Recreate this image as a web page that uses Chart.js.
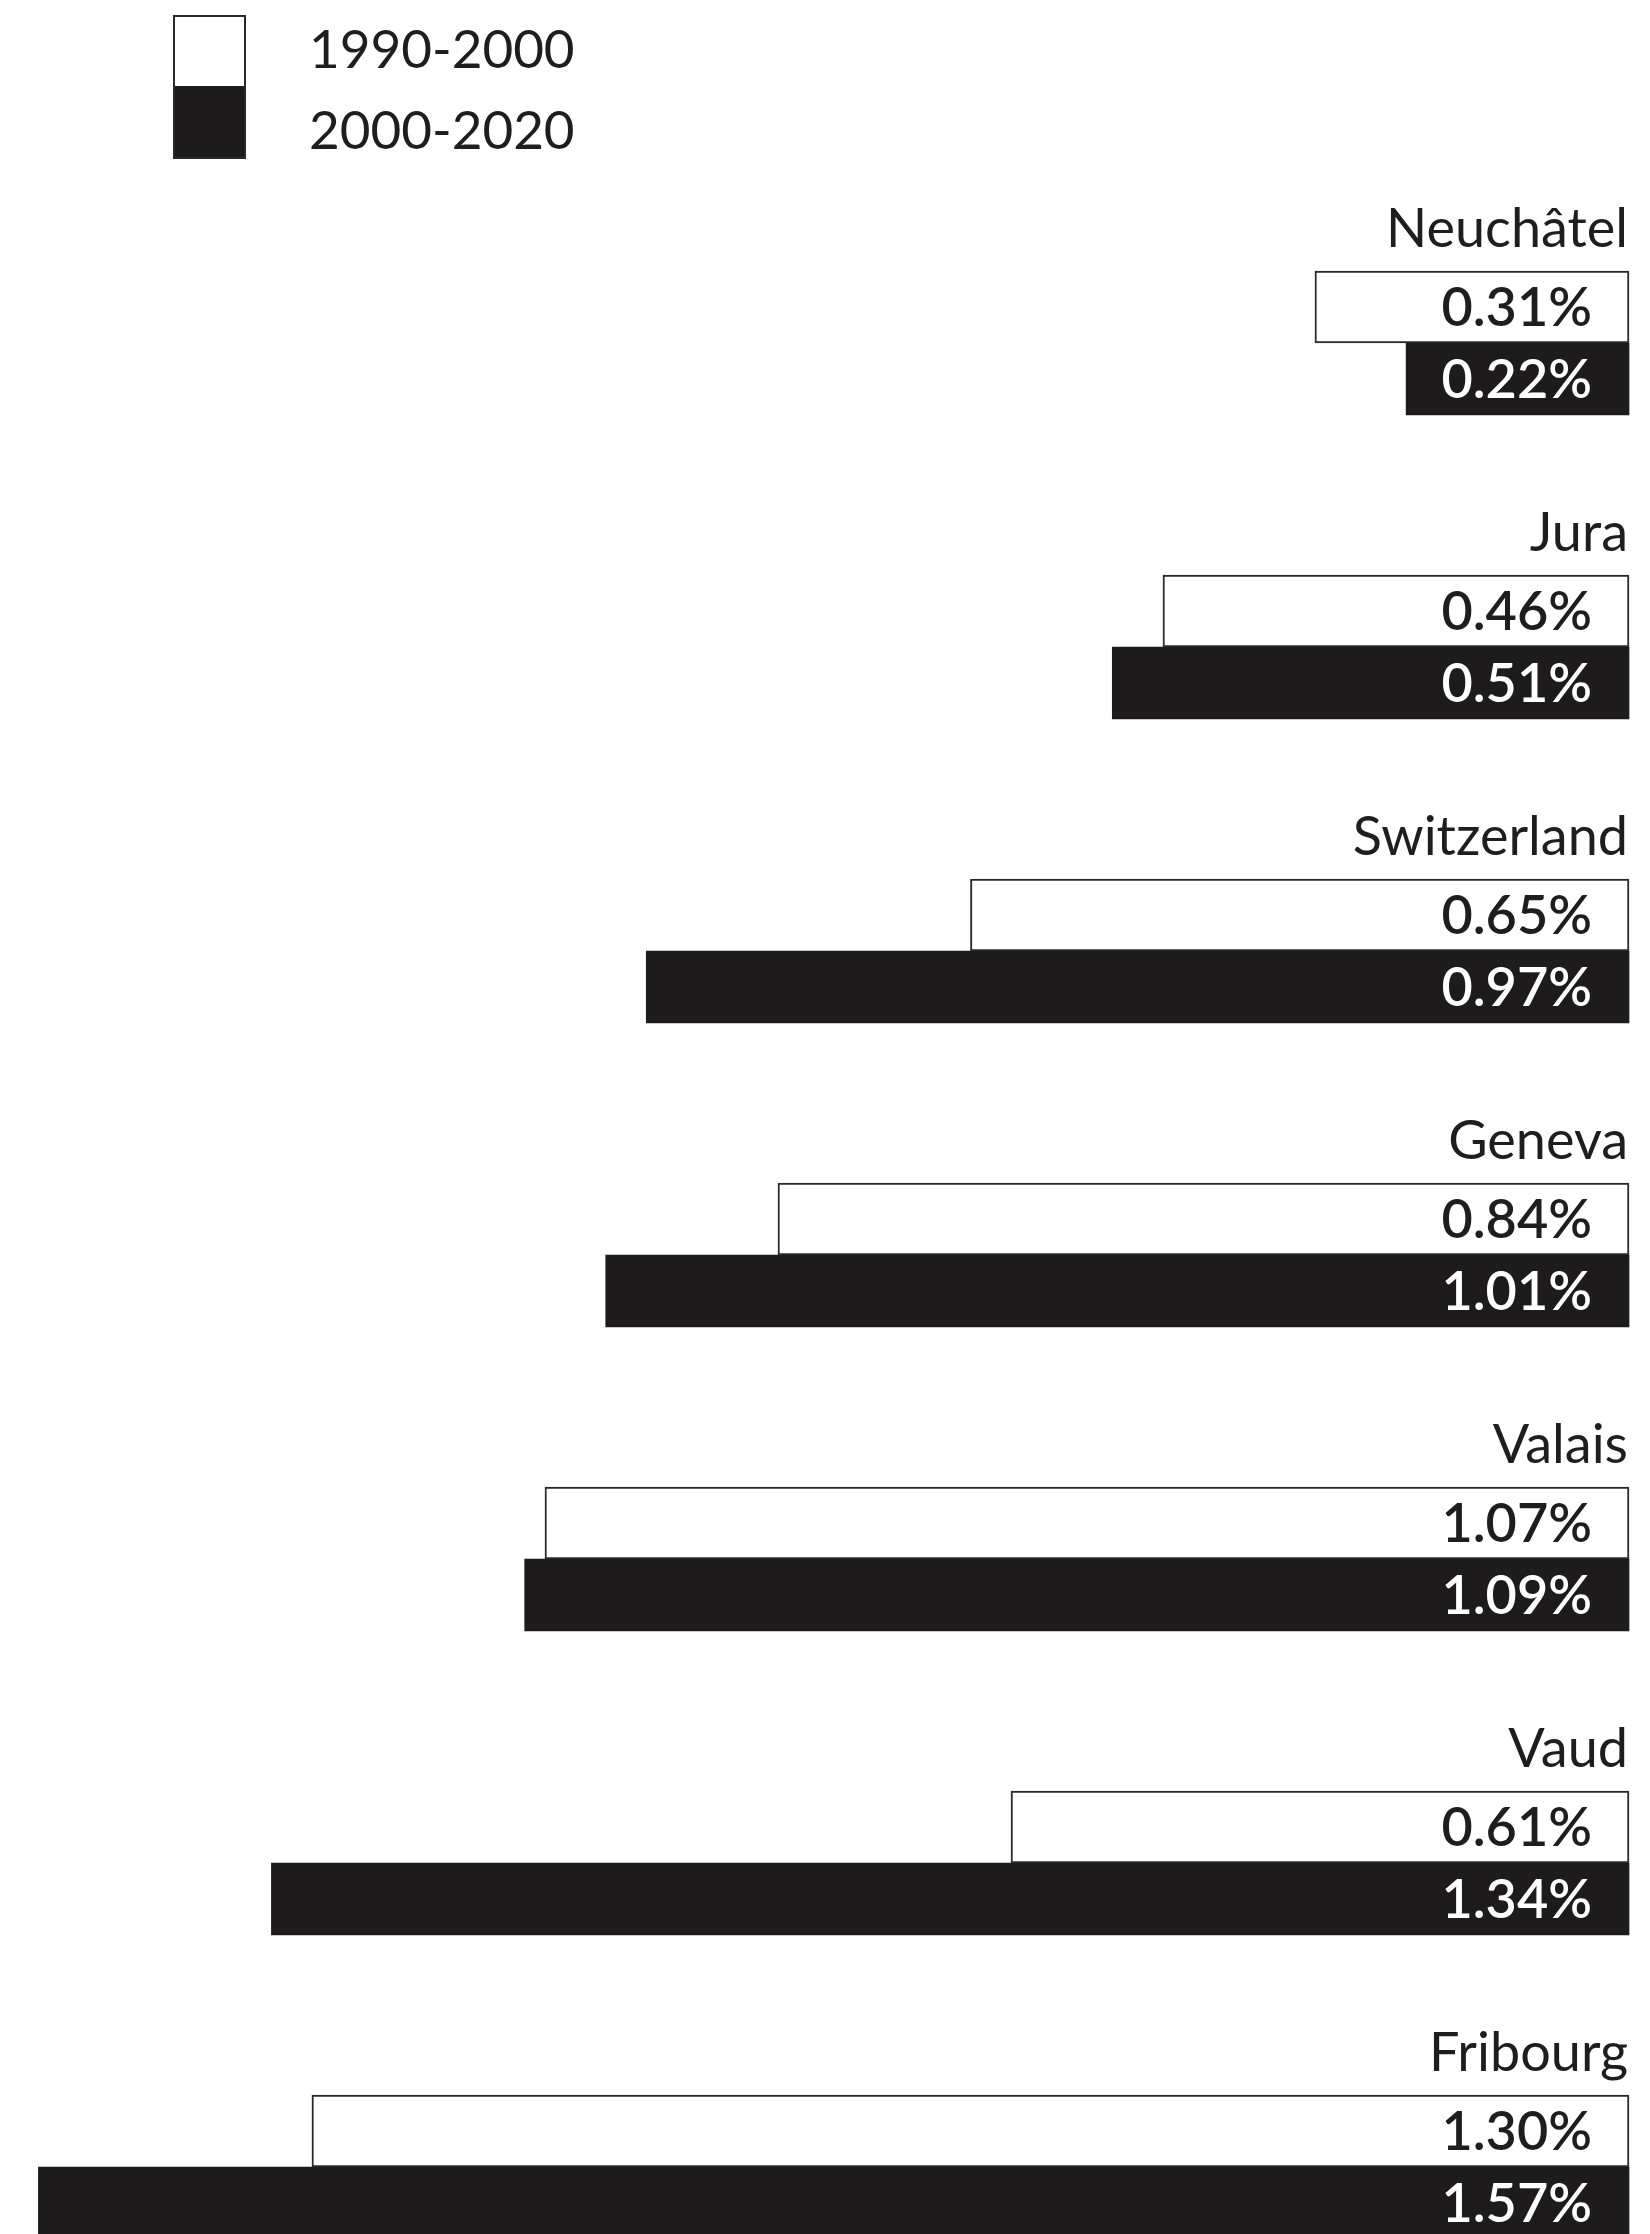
<!DOCTYPE html>
<html>
<head>
<meta charset="utf-8">
<script src="https://cdn.jsdelivr.net/npm/chart.js@4.4.1/dist/chart.umd.min.js"></script>
<style>
  html, body { margin: 0; padding: 0; background: #fff; overflow: hidden; }
  #wrap { width: 1650px; height: 2234px; }
</style>
</head>
<body>
<div id="wrap"><canvas id="growth"></canvas></div>
<script>
// GROWTH RATES BY CANTON
var cantons = ["Neuchâtel", "Jura", "Switzerland", "Geneva", "Valais", "Vaud", "Fribourg"];
var rate1990 = [0.31, 0.46, 0.65, 0.84, 1.07, 0.61, 1.30];
var rate2000 = [0.22, 0.51, 0.97, 1.01, 1.09, 1.34, 1.57];
var seriesNames = ["1990-2000", "2000-2020"];
var textColor = "#1e1e1e";
var darkBar = "#1d1b1c";

// value labels, canton names and the stacked legend box
var labelPlugin = {
  id: "labels",
  afterDatasetsDraw: function (chart) {
    var ctx = chart.ctx;
    ctx.save();

    // canton names above each pair of bars
    var yScale = chart.scales.y;
    ctx.font = "400 54px Lato";
    ctx.fillStyle = textColor;
    ctx.textAlign = "right";
    ctx.textBaseline = "alphabetic";
    cantons.forEach(function (name, i) {
      var yc = yScale.getPixelForValue(i);
      ctx.fillText(name, 1628, yc - 96);
    });

    // percentages inside the bars
    ctx.font = "600 54px Lato";
    ctx.textBaseline = "middle";
    chart.data.datasets.forEach(function (ds, di) {
      var meta = chart.getDatasetMeta(di);
      meta.data.forEach(function (bar, i) {
        ctx.fillStyle = di === 0 ? textColor : "#ffffff";
        ctx.fillText(ds.data[i].toFixed(2) + "%", bar.base - 37, bar.y + 2);
      });
    });

    // legend
    var ds0 = chart.data.datasets[0];
    var ds1 = chart.data.datasets[1];
    ctx.fillStyle = ds1.backgroundColor;
    ctx.fillRect(173, 86, 73, 73);
    ctx.fillStyle = ds0.backgroundColor;
    ctx.fillRect(173, 15, 73, 71);
    ctx.strokeStyle = ds0.borderColor;
    ctx.lineWidth = 2;
    ctx.strokeRect(174, 16, 71, 142);
    ctx.font = "400 53px Lato";
    ctx.fillStyle = textColor;
    ctx.textAlign = "left";
    ctx.textBaseline = "alphabetic";
    ctx.fillText(ds0.label, 309, 68);
    ctx.fillText(ds1.label, 309, 149);

    ctx.restore();
  },
};

new Chart("growth", {
  type: "bar",
  data: {
    labels: cantons,
    datasets: [
      {
        label: seriesNames[0],
        data: rate1990,
        backgroundColor: "#ffffff",
        borderColor: "#2a2a2a",
        borderWidth: 2,
        borderSkipped: false,
        barThickness: 72,
        clip: false,
      },
      {
        label: seriesNames[1],
        data: rate2000,
        backgroundColor: darkBar,
        borderWidth: 0,
        barThickness: 72,
        clip: false,
      },
    ],
  },
  options: {
    indexAxis: "y",
    responsive: true,
    maintainAspectRatio: false,
    animation: false,
    layout: { padding: { top: 343, bottom: 67, left: 8, right: 21 } },
    scales: {
      x: { display: false, reverse: true, min: 0, max: 1.6 },
      y: { display: false, offset: false },
    },
    plugins: {
      legend: { display: false },
      tooltip: { enabled: false },
    },
  },
  plugins: [labelPlugin],
});
</script>
</body>
</html>
